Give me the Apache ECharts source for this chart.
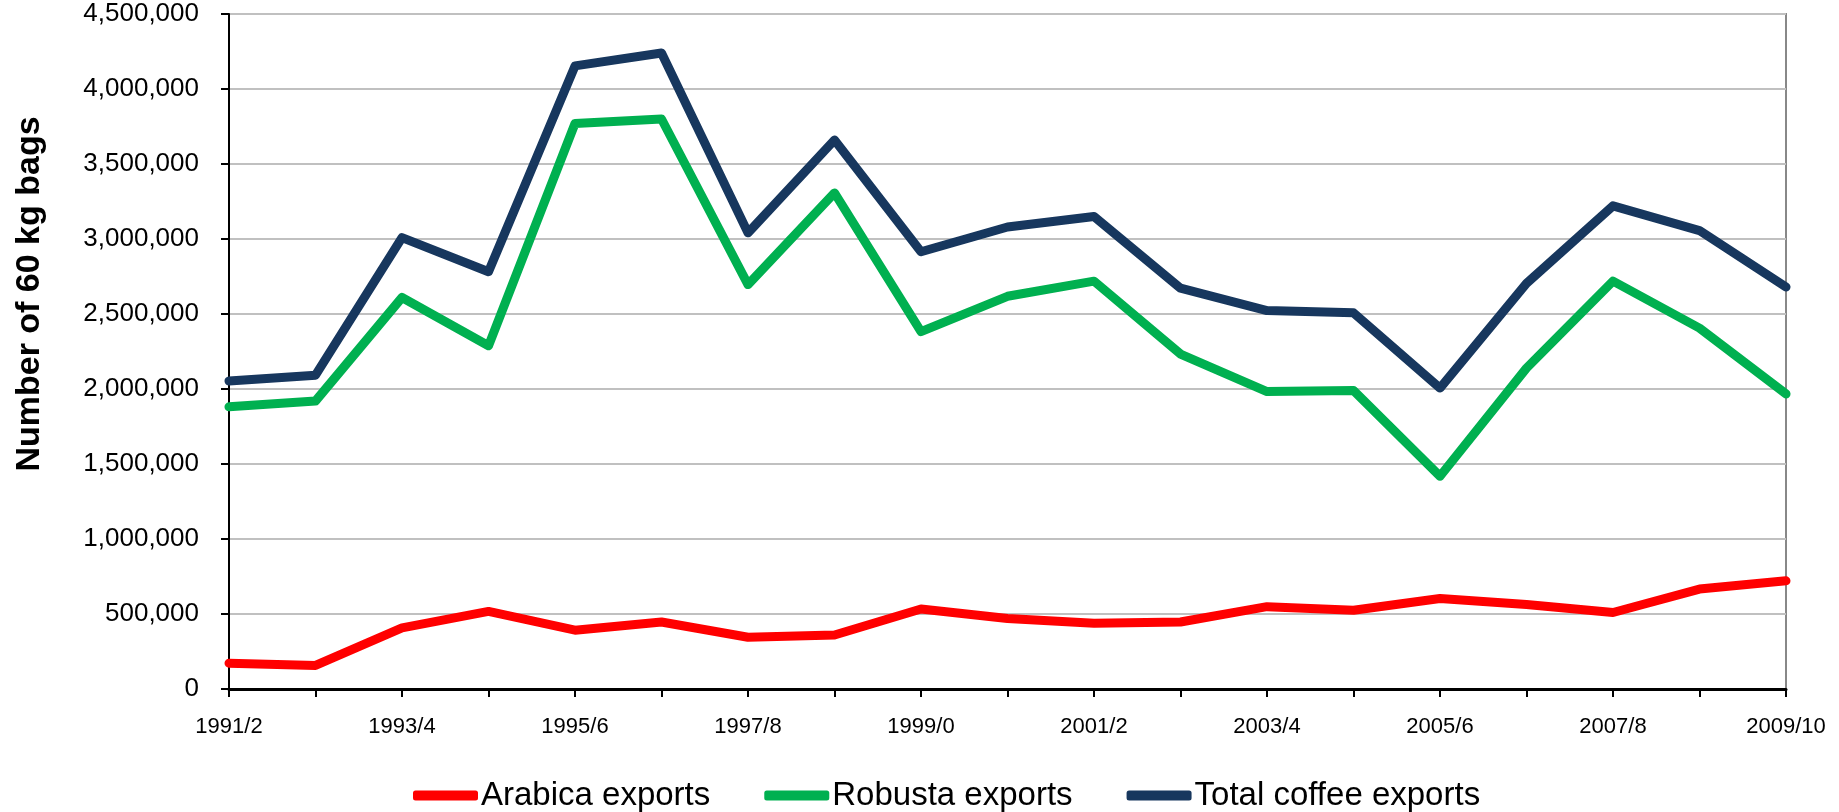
<!DOCTYPE html>
<html>
<head>
<meta charset="utf-8">
<script src="https://cdn.jsdelivr.net/npm/echarts@6/dist/echarts.min.js"></script>
<style>
  html, body { margin: 0; padding: 0; background: #fff; }
  #chart { width: 1839px; height: 812px; }
</style>
</head>
<body>
<div id="chart"></div>
<script>
const seasons = ['1991/2', '1992/3', '1993/4', '1994/5', '1995/6', '1996/7', '1997/8', '1998/9', '1999/0', '2000/1',
  '2001/2', '2002/3', '2003/4', '2004/5', '2005/6', '2006/7', '2007/8', '2008/9', '2009/10'];
const arabica = [172000, 157000, 408000, 517000, 392000, 447000, 345000, 360000, 533000, 470000,
  439000, 447000, 549000, 525000, 603000, 564000, 510000, 666000, 721000];
const robusta = [1881000, 1920000, 2610000, 2288000, 3770000, 3800000, 2696000, 3307000, 2382000, 2618000,
  2719000, 2233000, 1983000, 1990000, 1418000, 2139000, 2719000, 2406000, 1967000];
const total = [2053000, 2092000, 3009000, 2782000, 4154000, 4240000, 3041000, 3660000, 2915000, 3080000,
  3150000, 2672000, 2523000, 2508000, 2006000, 2704000, 3221000, 3056000, 2680000];

const chart = echarts.init(document.getElementById('chart'));
const font = 'Liberation Sans, Arial, sans-serif';

function line(name, data, color) {
  return {
    name: name,
    type: 'line',
    data: data,
    symbol: 'none',
    lineStyle: { color: color, width: 9, join: 'round', cap: 'round' },
    itemStyle: { color: color },
    emphasis: { disabled: true }
  };
}

chart.setOption({
  animation: false,
  textStyle: { fontFamily: font },
  grid: {
    left: 229, right: 53, top: 14, bottom: 123,
    show: true, borderColor: '#888', borderWidth: 2
  },
  legend: {
    top: 774,
    left: 408,
    icon: 'roundRect',
    itemWidth: 65,
    itemHeight: 10,
    itemGap: 54,
    textStyle: { fontSize: 33, color: '#000', fontFamily: font, padding: [0, 0, 0, -2] },
    data: ['Arabica exports', 'Robusta exports', 'Total coffee exports']
  },
  xAxis: {
    type: 'category',
    data: seasons,
    boundaryGap: false,
    axisLine: { lineStyle: { color: '#000', width: 3 } },
    axisTick: { show: true, length: 8, interval: 0, lineStyle: { color: '#000', width: 2 } },
    axisLabel: { interval: 1, fontSize: 22, color: '#000', margin: 27 },
    splitLine: { show: false }
  },
  yAxis: {
    type: 'value',
    min: 0,
    max: 4500000,
    interval: 500000,
    axisLine: { show: true, lineStyle: { color: '#000', width: 2 } },
    axisTick: { show: true, length: 8, lineStyle: { color: '#000', width: 2 } },
    axisLabel: {
      fontSize: 26, color: '#000', margin: 30,
      formatter: v => v.toLocaleString('en-US')
    },
    splitLine: { lineStyle: { color: '#c0c0c0', width: 2 } }
  },
  graphic: [{
    type: 'text',
    x: 30,
    y: 294,
    rotation: Math.PI / 2,
    style: {
      text: 'Number of 60 kg bags',
      font: 'bold 34px ' + font,
      fill: '#000',
      align: 'center',
      verticalAlign: 'middle'
    }
  }],
  series: [
    line('Arabica exports', arabica, '#ff0000'),
    line('Robusta exports', robusta, '#00b050'),
    line('Total coffee exports', total, '#17375e')
  ]
});
</script>
</body>
</html>
